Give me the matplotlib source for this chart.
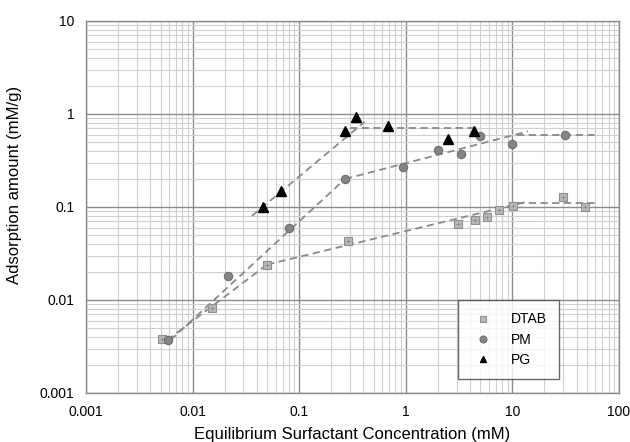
import numpy as np
import matplotlib
matplotlib.use('Agg')
import matplotlib.pyplot as plt
from matplotlib.ticker import FixedLocator, FixedFormatter, LogLocator, NullFormatter

plt.rcParams['font.family'] = ['Liberation Sans', 'DejaVu Sans']

# measured points
dtab_x = [0.0052, 0.0153, 0.050, 0.29, 3.1, 4.5, 5.8, 7.5, 10.2, 30, 48]
dtab_y = [0.0038, 0.0081, 0.024, 0.043, 0.066, 0.073, 0.078, 0.093, 0.103, 0.127, 0.10]
pm_x = [0.0059, 0.0214, 0.080, 0.27, 0.95, 2.0, 3.3, 5.0, 10, 31]
pm_y = [0.0037, 0.018, 0.060, 0.20, 0.27, 0.41, 0.37, 0.58, 0.48, 0.60]
pg_x = [0.046, 0.068, 0.27, 0.34, 0.68, 2.5, 4.4]
pg_y = [0.10, 0.15, 0.65, 0.92, 0.74, 0.54, 0.65]

# fitted dashed segments (x list, y list)
dtab_fit = [([0.0058, 0.050], [0.0037, 0.024]),
            ([0.050, 13], [0.024, 0.112]),
            ([11, 65], [0.11, 0.11])]
pm_fit = [([0.0062, 0.27], [0.0037, 0.20]),
          ([0.27, 14], [0.20, 0.65]),
          ([11, 65], [0.60, 0.60])]
pg_fit = [([0.036, 0.41], [0.080, 0.82]),
          ([0.30, 4.5], [0.70, 0.70])]

xticks = [0.001, 0.01, 0.1, 1, 10, 100]
xticklabels = ['0.001', '0.01', '0.1', '1', '10', '100']
yticks = [0.001, 0.01, 0.1, 1, 10]
yticklabels = ['0.001', '0.01', '0.1', '1', '10']

fig = plt.figure(figsize=(6.3, 4.42), dpi=100)
ax = fig.add_axes([0.1365, 0.111, 0.846, 0.8416])
ax.set_xscale('log')
ax.set_yscale('log')
ax.set_xlim(0.001, 100)
ax.set_ylim(0.001, 10)

ax.xaxis.set_major_locator(FixedLocator(xticks))
ax.xaxis.set_major_formatter(FixedFormatter(xticklabels))
ax.yaxis.set_major_locator(FixedLocator(yticks))
ax.yaxis.set_major_formatter(FixedFormatter(yticklabels))
ax.xaxis.set_minor_locator(LogLocator(base=10, subs=np.arange(2, 10)))
ax.yaxis.set_minor_locator(LogLocator(base=10, subs=np.arange(2, 10)))
ax.xaxis.set_minor_formatter(NullFormatter())
ax.yaxis.set_minor_formatter(NullFormatter())

ax.grid(which='major', color='#8c8c8c', linewidth=1.0)
ax.grid(which='minor', color='#d0d0d0', linewidth=0.8)
ax.set_axisbelow(True)
ax.tick_params(which='both', length=0, labelsize=10, pad=8.5)
for s in ax.spines.values():
    s.set_color('#8c8c8c')
    s.set_linewidth(1.0)

for fits in (dtab_fit, pm_fit, pg_fit):
    for fx, fy in fits:
        ax.plot(fx, fy, ls=(0, (4, 2.5)), color='#8a8a8a', lw=1.3, zorder=2)

ax.plot(dtab_x, dtab_y, 's', ms=6, mfc='#b8b8b8', mec='#8f8f8f', mew=0.8,
        ls='none', label='DTAB', zorder=3)
ax.plot(dtab_x, dtab_y, '+', ms=2.5, mec='#8a8a8a', mew=0.6, ls='none', zorder=3)
ax.plot(pm_x, pm_y, 'o', ms=6, mfc='#858585', mec='#6e6e6e', mew=0.8,
        ls='none', label='PM', zorder=3)
ax.plot(pg_x, pg_y, '^', ms=6.5, mfc='black', mec='black',
        ls='none', label='PG', zorder=4)

leg = ax.legend(loc='upper left', bbox_to_anchor=(0.698, 0.25), frameon=True,
                fancybox=False, fontsize=10, handletextpad=1.1, borderpad=0.9,
                labelspacing=0.45, handlelength=1.8, borderaxespad=0)
leg.get_frame().set_edgecolor('#444444')
leg.get_frame().set_linewidth(1.0)
for h in leg.legend_handles:
    h.set_markersize(5)

ax.set_xlabel('Equilibrium Surfactant Concentration (mM)', fontsize=12, labelpad=6)
ax.set_ylabel('Adsorption amount (mM/g)', fontsize=12)
ax.yaxis.set_label_coords(-0.12, 0.56)

fig.savefig('out.png', dpi=100)
